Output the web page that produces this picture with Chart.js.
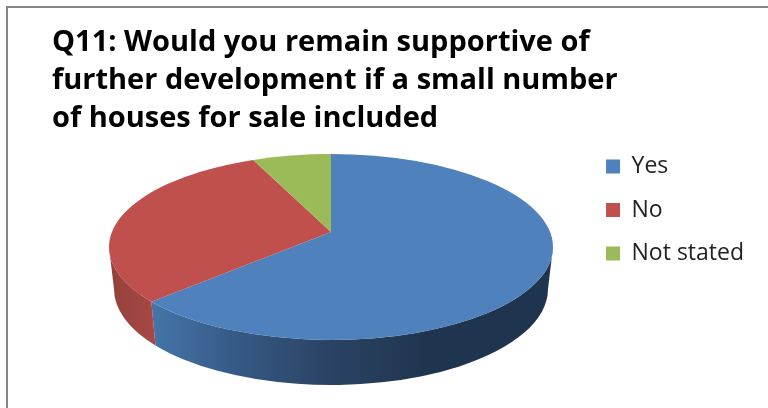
<!DOCTYPE html>
<html>
<head>
<meta charset="utf-8">
<title>Q11</title>
<script src="https://cdn.jsdelivr.net/npm/chart.js@4"></script>
<style>
  html, body { margin: 0; padding: 0; background: #fff; overflow: hidden; }
  #frame { position: absolute; left: 6px; top: 6px; right: 0; bottom: 0; border-left: 2px solid #868686; border-top: 2px solid #868686; }
  #wrap { position: absolute; left: 0; top: 0; width: 768px; height: 408px; }
</style>
</head>
<body>
<div id="frame"></div>
<div id="wrap"><canvas id="pie" width="768" height="408"></canvas></div>
<script>
const titleLines = [
  "Q11: Would you remain supportive of",
  "further development if a small number",
  "of houses for sale included"
];
const categories = ["Yes", "No", "Not stated"];
const responses = [65, 29.3, 5.7];
const sliceColors = ["#4F81BD", "#C0504D", "#9BBB59"];

// rim of the top face, the lower rim of the wall, and the tilted centre point
const top3d = { cx: 331, cy: 247, rx: 222, ry: 93, apexY: 232 };
const base3d = { cx: 331, cy: 289, rx: 217, ry: 96 };

function wallFill(ctx, index) {
  if (index === 0) {
    const g = ctx.createLinearGradient(151, 0, 430, 0);
    g.addColorStop(0, "#4575A9");
    g.addColorStop(0.3, "#365A86");
    g.addColorStop(0.65, "#2A4263");
    g.addColorStop(1, "#1F344E");
    return g;
  }
  const g = ctx.createLinearGradient(108, 0, 155, 0);
  g.addColorStop(0, "#93403C");
  g.addColorStop(1, "#A84844");
  return g;
}

const pie3d = {
  id: "pie3d",
  beforeDatasetsDraw(chart) {
    const ctx = chart.ctx;
    const arcs = chart.getDatasetMeta(0).data;
    ctx.save();

    // outer wall, only the part facing the viewer
    arcs.forEach((arc, i) => {
      const from = arc.startAngle, to = arc.endAngle;
      const a = Math.max(from, 0), b = Math.min(to, Math.PI);
      if (b <= a) return;
      ctx.beginPath();
      ctx.ellipse(top3d.cx, top3d.cy, top3d.rx, top3d.ry, 0, a, b);
      ctx.ellipse(base3d.cx, base3d.cy, base3d.rx, base3d.ry, 0, b, a, true);
      ctx.closePath();
      ctx.fillStyle = wallFill(ctx, i);
      ctx.fill();
    });

    // top faces
    arcs.forEach((arc, i) => {
      ctx.beginPath();
      ctx.moveTo(top3d.cx, top3d.apexY);
      ctx.ellipse(top3d.cx, top3d.cy, top3d.rx, top3d.ry, 0, arc.startAngle, arc.endAngle);
      ctx.closePath();
      ctx.fillStyle = sliceColors[i];
      ctx.fill();
    });

    ctx.restore();
    return false;
  }
};

new Chart(document.getElementById("pie"), {
  type: "pie",
  data: {
    labels: categories,
    datasets: [{ data: responses, backgroundColor: sliceColors, borderWidth: 0 }]
  },
  plugins: [pie3d],
  options: {
    responsive: false,
    animation: false,
    layout: { padding: { left: 52, top: 24, right: 14, bottom: 12 } },
    plugins: {
      tooltip: { enabled: false },
      title: {
        display: true,
        text: titleLines,
        align: "start",
        color: "#000",
        font: { family: "Open Sans", size: 29, weight: "bold", lineHeight: 1.3 },
        padding: { top: 0, bottom: 12 }
      },
      legend: {
        position: "right",
        align: "center",
        labels: {
          boxWidth: 14,
          boxHeight: 14,
          padding: 20.5,
          color: "#222",
          font: { family: "Open Sans", size: 23 }
        }
      }
    }
  }
});
</script>
</body>
</html>
